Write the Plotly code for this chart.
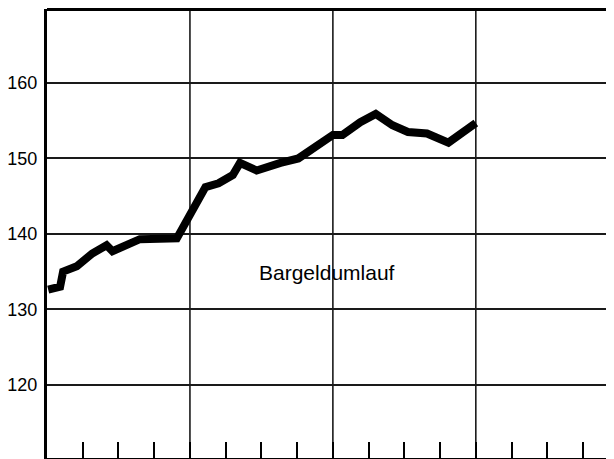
import plotly.graph_objects as go

# months from start of first year (0 = start), values (Mrd.)
months = [0.1, 1.1, 1.35, 2.5, 3.8, 5.0, 5.5, 7.8, 10.9, 13.3, 14.4, 15.6, 16.2, 17.6,
          19.6, 21.1, 24.0, 24.8, 26.3, 27.6, 29.0, 30.3, 31.9, 32.9, 33.7, 36.0]
values = [132.6, 133.0, 135.0, 135.7, 137.4, 138.5, 137.7, 139.3, 139.4, 146.2, 146.7,
          147.8, 149.4, 148.4, 149.4, 150.0, 153.1, 153.1, 154.8, 155.9, 154.4, 153.5,
          153.3, 152.5, 152.1, 154.7]
y_ticks = [120, 130, 140, 150, 160]
x_ticks = [3, 6, 9, 12, 15, 18, 21, 24, 27, 30, 33, 36, 39, 42, 45]
series_label = "Bargeldumlauf"

fig = go.Figure()
fig.add_trace(go.Scatter(x=months, y=values, mode="lines",
                         line=dict(color="black", width=8, shape="linear"),
                         hoverinfo="skip", showlegend=False))

fig.add_annotation(x=23.5, y=134.9, text=series_label, showarrow=False,
                   font=dict(family="Liberation Sans, Arial, sans-serif", size=21, color="black"))

# thick top border
fig.add_shape(type="line", xref="paper", yref="paper", x0=0, x1=1, y0=1, y1=1,
              line=dict(color="black", width=4))

fig.update_layout(
    width=606, height=451,
    margin=dict(l=39, r=0, t=1, b=1, autoexpand=False),
    paper_bgcolor="white", plot_bgcolor="white",
    font=dict(family="Liberation Sans, Arial, sans-serif", size=18, color="black"),
)
fig.update_xaxes(range=[0, 47.6], showgrid=False, zeroline=False,
                 tickvals=x_ticks, ticks="inside", ticklen=16, tickwidth=2, tickcolor="black",
                 showticklabels=False, showline=True, linecolor="black", linewidth=2)
# vertical year gridlines
for yr in [12, 24, 36]:
    fig.add_shape(type="line", xref="x", yref="paper", x0=yr, x1=yr, y0=0, y1=1,
                  line=dict(color="#1a1a1a", width=1.6), layer="below")
fig.update_yaxes(range=[110.3, 169.8], tickvals=y_ticks, showgrid=True,
                 gridcolor="#1a1a1a", gridwidth=1.6, zeroline=False,
                 ticks="", ticklabelstandoff=3, showline=True, linecolor="black", linewidth=3)

fig.write_html("out.html")
